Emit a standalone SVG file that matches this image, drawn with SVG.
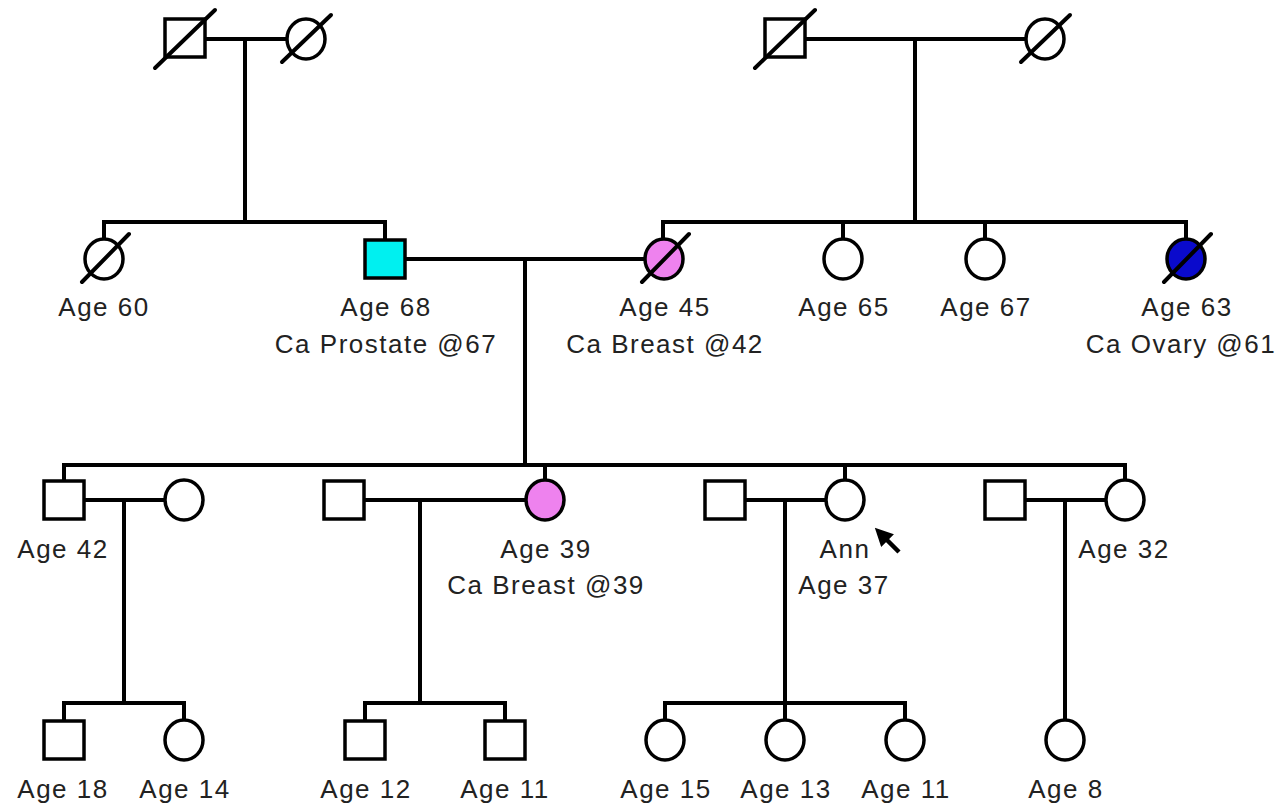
<svg xmlns="http://www.w3.org/2000/svg" width="1283" height="806" viewBox="0 0 1283 806">
<defs>
<style>
.ln{stroke:#000;stroke-width:4;fill:none;stroke-linecap:square}
.sym{stroke:#000;stroke-width:3.5;fill:#fff}
.dec{stroke:#000;stroke-width:4;stroke-linecap:round}
.t{font-family:"Liberation Sans",Arial,sans-serif;font-size:26px;fill:#222;text-anchor:middle;letter-spacing:1.5px}
.cy{fill:#00f0f0}
.pk{fill:#ee82ee}
.bl{fill:#0a0acc}
</style>
<marker id="ah" viewBox="0 0 10 10" refX="2" refY="5" markerWidth="4" markerHeight="4" orient="auto-start-reverse">
<path d="M0,0 L10,5 L0,10 z" fill="#000"/>
</marker>
</defs>
<rect width="1283" height="806" fill="#fff"/>
<g id="connectors">
<path class="ln" d="M205,39 H287 M245,39 V222"/>
<path class="ln" d="M805,39 H1026 M915,39 V222"/>
<path class="ln" d="M104,222 H385 M104,222 V240 M385,222 V240"/>
<path class="ln" d="M663,222 H1186 M663,222 V240 M843,222 V240 M985,222 V240 M1186,222 V240"/>
<path class="ln" d="M405,259 H645 M525,259 V465"/>
<path class="ln" d="M64,465 H1125 M64,465 V481 M545,465 V481 M845,465 V481 M1125,465 V481"/>
<path class="ln" d="M84,500 H165 M124,500 V703"/>
<path class="ln" d="M363,500 H526 M420,500 V703"/>
<path class="ln" d="M745,500 H826 M785,500 V703"/>
<path class="ln" d="M1025,500 H1106 M1065,500 V721"/>
<path class="ln" d="M64,703 H184 M64,703 V721 M184,703 V721"/>
<path class="ln" d="M365,703 H505 M365,703 V721 M505,703 V721"/>
<path class="ln" d="M665,703 H905 M665,703 V721 M785,703 V721 M905,703 V721"/>
</g>
<g id="gf1">
<rect class="sym" x="165" y="19" width="40" height="38"/>
<line class="dec" x1="155" y1="68" x2="215" y2="10"/>
</g>
<g id="gm1">
<ellipse class="sym" cx="306" cy="39" rx="19" ry="20"/>
<line class="dec" x1="282" y1="62" x2="331" y2="15"/>
</g>
<g id="gf2">
<rect class="sym" x="765" y="19" width="40" height="38"/>
<line class="dec" x1="755" y1="68" x2="815" y2="10"/>
</g>
<g id="gm2">
<ellipse class="sym" cx="1045" cy="39" rx="19" ry="20"/>
<line class="dec" x1="1021" y1="62" x2="1070" y2="15"/>
</g>
<g id="aunt60">
<ellipse class="sym" cx="104" cy="259" rx="19" ry="20"/>
<line class="dec" x1="82" y1="282" x2="129" y2="234"/>
<text class="t" x="104" y="316">Age 60</text>
</g>
<g id="father">
<rect class="sym cy" x="365" y="240" width="40" height="38"/>
<text class="t" x="386" y="316">Age 68</text>
<text class="t" x="386" y="353">Ca Prostate @67</text>
</g>
<g id="mother">
<ellipse class="sym pk" cx="664" cy="259" rx="19" ry="20"/>
<line class="dec" x1="642" y1="282" x2="689" y2="234"/>
<text class="t" x="665" y="316">Age 45</text>
<text class="t" x="665" y="353">Ca Breast @42</text>
</g>
<g id="aunt65">
<ellipse class="sym" cx="843" cy="259" rx="19" ry="20"/>
<text class="t" x="844" y="316">Age 65</text>
</g>
<g id="aunt67">
<ellipse class="sym" cx="985" cy="259" rx="19" ry="20"/>
<text class="t" x="986" y="316">Age 67</text>
</g>
<g id="aunt63">
<ellipse class="sym bl" cx="1186" cy="259" rx="19" ry="20"/>
<line class="dec" x1="1164" y1="282" x2="1211" y2="234"/>
<text class="t" x="1187" y="316">Age 63</text>
<text class="t" x="1181" y="353">Ca Ovary @61</text>
</g>
<g id="brother42">
<rect class="sym" x="44" y="481" width="40" height="38"/>
<text class="t" x="63" y="558">Age 42</text>
</g>
<g id="wife42">
<ellipse class="sym" cx="184" cy="500" rx="19" ry="20"/>
</g>
<g id="husband39">
<rect class="sym" x="324" y="481" width="40" height="38"/>
</g>
<g id="sister39">
<ellipse class="sym pk" cx="545" cy="500" rx="19" ry="20"/>
<text class="t" x="546" y="558">Age 39</text>
<text class="t" x="546" y="594">Ca Breast @39</text>
</g>
<g id="husbandAnn">
<rect class="sym" x="705" y="481" width="40" height="38"/>
</g>
<g id="ann">
<ellipse class="sym" cx="845" cy="500" rx="19" ry="20"/>
<text class="t" x="845" y="558">Ann</text>
<text class="t" x="844" y="594">Age 37</text>
<line x1="899" y1="552" x2="885" y2="538" stroke="#000" stroke-width="4.5" marker-end="url(#ah)"/>
</g>
<g id="husband32">
<rect class="sym" x="985" y="481" width="40" height="38"/>
</g>
<g id="sister32">
<ellipse class="sym" cx="1125" cy="500" rx="19" ry="20"/>
<text class="t" x="1124" y="558">Age 32</text>
</g>
<g id="c18">
<rect class="sym" x="44" y="721" width="40" height="38"/>
<text class="t" x="63" y="798">Age 18</text>
</g>
<g id="c14">
<ellipse class="sym" cx="184" cy="740" rx="19" ry="20"/>
<text class="t" x="185" y="798">Age 14</text>
</g>
<g id="c12">
<rect class="sym" x="345" y="721" width="40" height="38"/>
<text class="t" x="366" y="798">Age 12</text>
</g>
<g id="c11a">
<rect class="sym" x="485" y="721" width="40" height="38"/>
<text class="t" x="505" y="798">Age 11</text>
</g>
<g id="c15">
<ellipse class="sym" cx="665" cy="740" rx="19" ry="20"/>
<text class="t" x="666" y="798">Age 15</text>
</g>
<g id="c13">
<ellipse class="sym" cx="785" cy="740" rx="19" ry="20"/>
<text class="t" x="786" y="798">Age 13</text>
</g>
<g id="c11b">
<ellipse class="sym" cx="905" cy="740" rx="19" ry="20"/>
<text class="t" x="906" y="798">Age 11</text>
</g>
<g id="c8">
<ellipse class="sym" cx="1065" cy="740" rx="19" ry="20"/>
<text class="t" x="1066" y="798">Age 8</text>
</g>
</svg>
